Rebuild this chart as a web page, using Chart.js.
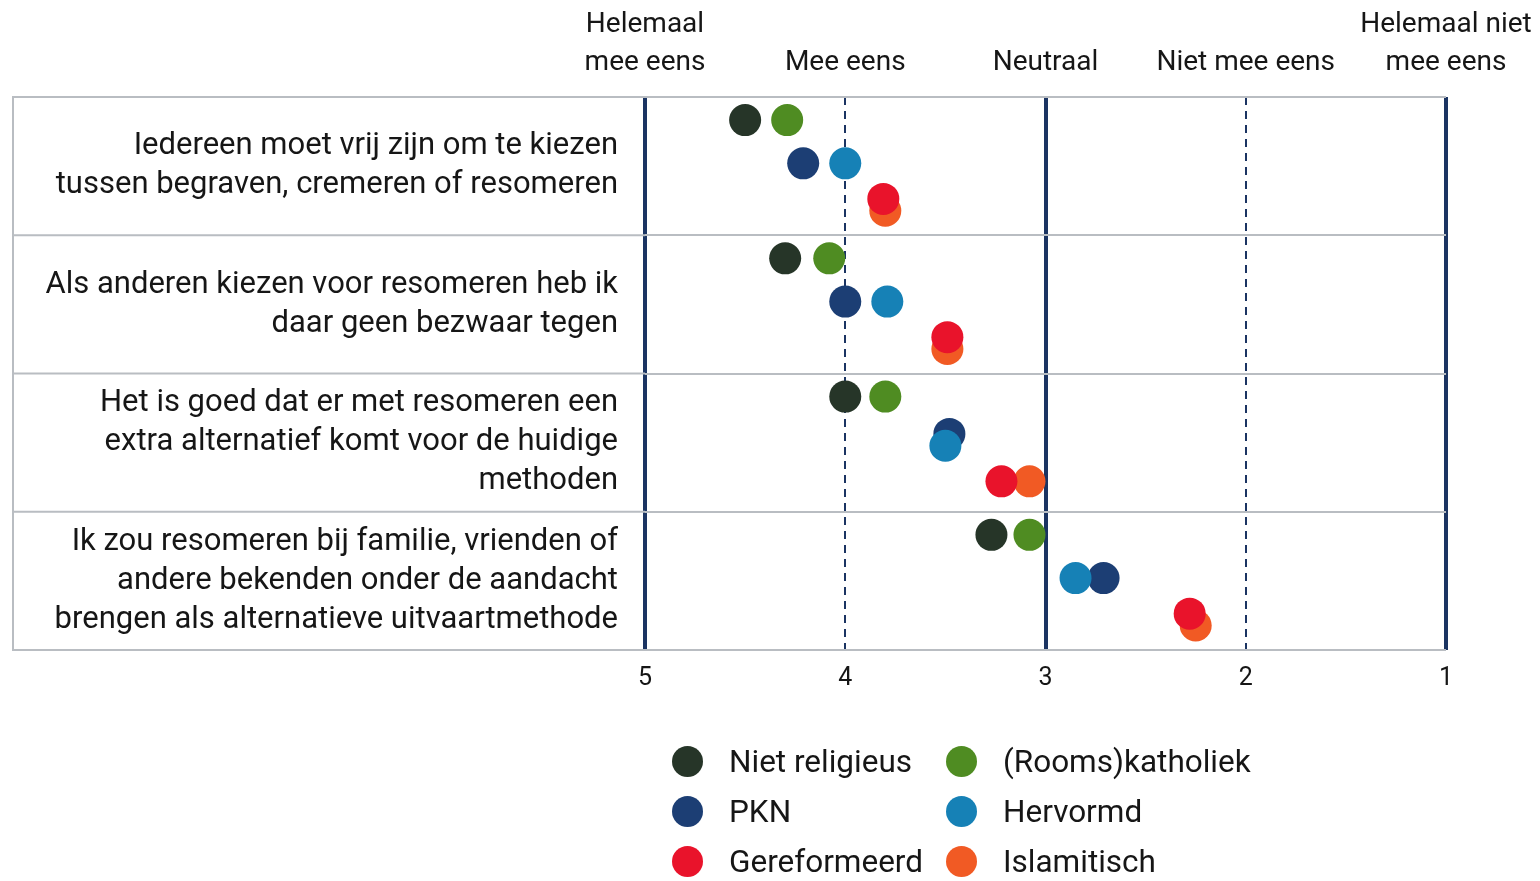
<!DOCTYPE html>
<html>
<head>
<meta charset="utf-8">
<script src="https://cdn.jsdelivr.net/npm/chart.js@4/dist/chart.umd.min.js"></script>
<style>
  html, body { margin: 0; padding: 0; background: #ffffff; }
  #wrap { position: relative; width: 1540px; height: 881px; overflow: hidden; }
  #chart { position: absolute; left: 0; top: 0; }
  #legend { position: absolute; left: 672px; top: 736px; display: grid;
            grid-template-columns: 274px auto; grid-auto-rows: 50px;
            font-family: Roboto, sans-serif; font-size: 31.5px; color: #161616; }
  .item { display: flex; align-items: center; white-space: nowrap; }
  .dot { width: 31px; height: 31px; border-radius: 50%; margin-right: 26px; flex: none; }
</style>
</head>
<body>
<div id="wrap">
  <canvas id="chart" width="1540" height="881"></canvas>
  <div id="legend"></div>
</div>
<script>
// ---- data ----
const categories = [
  ['Iedereen moet vrij zijn om te kiezen', 'tussen begraven, cremeren of resomeren'],
  ['Als anderen kiezen voor resomeren heb ik', 'daar geen bezwaar tegen'],
  ['Het is goed dat er met resomeren een', 'extra alternatief komt voor de huidige', 'methoden'],
  ['Ik zou resomeren bij familie, vrienden of', 'andere bekenden onder de aandacht', 'brengen als alternatieve uitvaartmethode']
];
const scaleValues = [5, 4, 3, 2, 1];
const scaleLabels = [['Helemaal', 'mee eens'], 'Mee eens', 'Neutraal', 'Niet mee eens', ['Helemaal niet', 'mee eens']];

const seriesNames = ['Niet religieus', '(Rooms)katholiek', 'PKN', 'Hervormd', 'Gereformeerd', 'Islamitisch'];
const nietReligieus = [4.50, 4.30, 4.00, 3.27];
const katholiek     = [4.29, 4.08, 3.80, 3.08];
const pkn           = [4.21, 4.00, 3.48, 2.71];
const hervormd      = [4.00, 3.79, 3.50, 2.85];
const gereformeerd  = [3.81, 3.49, 3.22, 2.28];
const islamitisch   = [3.80, 3.49, 3.08, 2.25];
const seriesValues = [nietReligieus, katholiek, pkn, hervormd, gereformeerd, islamitisch];

// ---- styling / layout ----
const seriesColors = ['#263528', '#4f8c22', '#1c3e74', '#1681b6', '#e9132b', '#f15a24'];
const drawOrder    = [1, 2, 4, 3, 5, 6];     // lower = drawn on top
const seriesLevel  = [0, 0, 1, 1, 2, 2];     // sub-row within a statement
const levelOffset  = [0.167, 0.48, 0.78];
const partnerOf    = [1, 0, 3, 2, 5, 4];
const nudge = 0.043;
const navy = '#1b3462';
const gridGray = '#b9bdc2';
const textColor = '#161616';

function yPos(s, i) {
  let y = i + levelOffset[seriesLevel[s]];
  const p = partnerOf[s];
  if (Math.abs(seriesValues[s][i] - seriesValues[p][i]) < 0.1) {
    y += (s < p ? -nudge : nudge);
  }
  return y;
}

const datasets = seriesNames.map((name, s) => ({
  label: name,
  data: seriesValues[s].map((v, i) => ({ x: v, y: yPos(s, i) })),
  backgroundColor: seriesColors[s],
  borderWidth: 0,
  pointRadius: 16,
  pointHoverRadius: 16,
  order: drawOrder[s]
}));

const frameExtension = {
  id: 'frameExtension',
  beforeDatasetsDraw(chart) {
    const { ctx, chartArea } = chart;
    const y = chart.scales.y;
    ctx.save();
    ctx.strokeStyle = gridGray;
    ctx.lineWidth = 2;
    for (let i = 0; i <= categories.length; i++) {
      const py = y.getPixelForValue(i);
      ctx.beginPath(); ctx.moveTo(12, py); ctx.lineTo(chartArea.left, py); ctx.stroke();
    }
    ctx.beginPath();
    ctx.moveTo(13, y.getPixelForValue(0));
    ctx.lineTo(13, y.getPixelForValue(categories.length));
    ctx.stroke();
    ctx.restore();
  }
};

Chart.defaults.font.family = 'Roboto, sans-serif';
Chart.defaults.color = textColor;

const isMain = v => v === 5 || v === 3 || v === 1;
const noSidePadding = s => { s.paddingLeft = 0; s.paddingRight = 0; };

const chart = new Chart(document.getElementById('chart'), {
  type: 'scatter',
  data: { datasets },
  plugins: [frameExtension],
  options: {
    responsive: false,
    animation: false,
    layout: { padding: { left: 0, right: 94, top: 0, bottom: 0 } },
    plugins: { legend: { display: false }, tooltip: { enabled: false } },
    scales: {
      x: {
        type: 'linear', position: 'bottom', min: 1, max: 5, reverse: true,
        afterFit: s => { s.height = 231; noSidePadding(s); },
        ticks: { stepSize: 1, padding: 14, font: { size: 25 }, color: textColor,
                 callback: v => String(v) },
        grid: {
          drawTicks: false,
          color: ctx => navy,
          lineWidth: ctx => (ctx.tick && isMain(ctx.tick.value)) ? 4 : 2
        },
        border: { display: false,
                  dash: ctx => (ctx.tick && !isMain(ctx.tick.value)) ? [8, 6] : [] }
      },
      xTop: {
        type: 'linear', position: 'top', min: 1, max: 5, reverse: true,
        afterFit: s => { s.height = 97; noSidePadding(s); },
        ticks: { stepSize: 1, padding: 15, font: { size: 28, lineHeight: 1.36 }, color: textColor,
                 callback: v => scaleLabels[scaleValues.indexOf(v)] },
        grid: { display: false, drawTicks: false },
        border: { display: false }
      },
      y: {
        type: 'linear', position: 'left', min: 0, max: categories.length, reverse: true,
        afterFit: s => { s.width = 645; },
        ticks: { stepSize: 0.5, autoSkip: false, padding: 27,
                 font: { size: 31, lineHeight: 1.26 }, color: textColor,
                 callback: v => Number.isInteger(v) ? '' : categories[Math.floor(v)] },
        grid: {
          drawTicks: false, lineWidth: 2,
          color: ctx => (ctx.tick && Number.isInteger(ctx.tick.value)) ? gridGray : 'rgba(0,0,0,0)'
        },
        border: { display: false }
      }
    }
  }
});

// HTML legend built from the chart's datasets
const legend = document.getElementById('legend');
chart.data.datasets.forEach(ds => {
  const item = document.createElement('div');
  item.className = 'item';
  const dot = document.createElement('span');
  dot.className = 'dot';
  dot.style.background = ds.backgroundColor;
  const txt = document.createElement('span');
  txt.textContent = ds.label;
  item.appendChild(dot); item.appendChild(txt);
  legend.appendChild(item);
});
</script>
</body>
</html>
